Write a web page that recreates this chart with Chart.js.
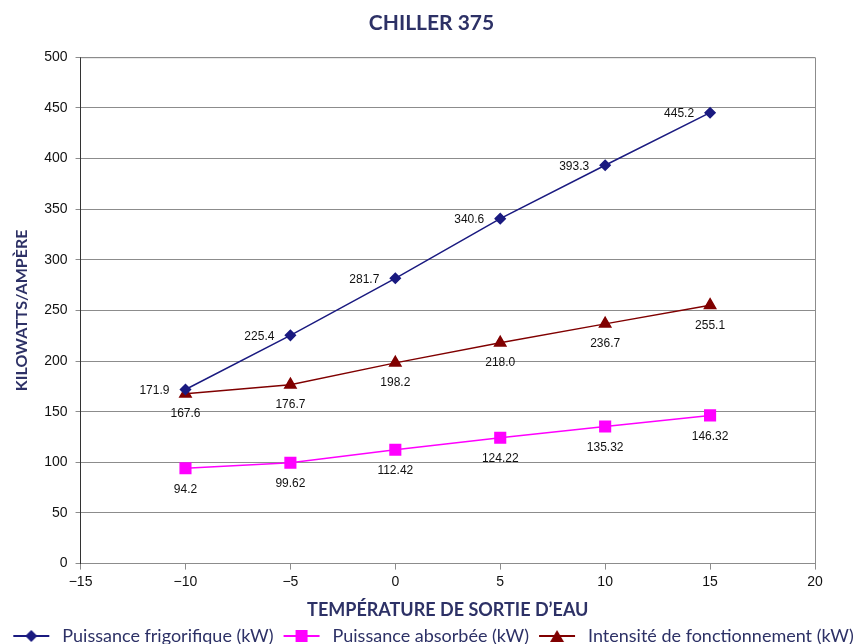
<!DOCTYPE html>
<html>
<head>
<meta charset="utf-8">
<script src="https://cdn.jsdelivr.net/npm/chart.js@4.4.1/dist/chart.umd.min.js"></script>
<style>
  html, body { margin: 0; padding: 0; background: #fff; }
  #wrap { width: 863px; height: 644px; }
</style>
</head>
<body>
<div id="wrap"><canvas id="chillerChart"></canvas></div>
<script>
const temperatures = [-10, -5, 0, 5, 10, 15];
const puissanceFrigo = [171.9, 225.4, 281.7, 340.6, 393.3, 445.2];
const puissanceAbsorbee = [94.2, 99.62, 112.42, 124.22, 135.32, 146.32];
const intensite = [167.6, 176.7, 198.2, 218.0, 236.7, 255.1];
const yTicks = [0, 50, 100, 150, 200, 250, 300, 350, 400, 450, 500];

const navy = '#2d3166';

function toPoints(values) {
  return temperatures.map((t, i) => ({ x: t, y: values[i] }));
}

// petite image ligne + marqueur pour la légende
function legendIcon(color, shape) {
  const c = document.createElement('canvas');
  c.width = 40; c.height = 14;
  const g = c.getContext('2d');
  g.strokeStyle = color; g.fillStyle = color; g.lineWidth = 2;
  g.beginPath(); g.moveTo(2, 7); g.lineTo(38, 7); g.stroke();
  g.beginPath();
  if (shape === 'diamond') {
    g.moveTo(20, 1); g.lineTo(26, 7); g.lineTo(20, 13); g.lineTo(14, 7);
  } else if (shape === 'square') {
    g.rect(14, 1, 12, 12);
  } else {
    g.moveTo(20, 1); g.lineTo(27, 13); g.lineTo(13, 13);
  }
  g.closePath(); g.fill();
  return c;
}

const icons = [
  legendIcon('#1a1a80', 'diamond'),
  legendIcon('#ff00ff', 'square'),
  legendIcon('#800000', 'triangle')
];

// étiquettes de valeurs
const valueLabels = {
  id: 'valueLabels',
  afterDatasetsDraw(chart) {
    const ctx = chart.ctx;
    ctx.save();
    ctx.font = '12px "Liberation Sans", Arial, sans-serif';
    ctx.fillStyle = '#111';
    ctx.textBaseline = 'middle';
    chart.data.datasets.forEach((ds, di) => {
      const meta = chart.getDatasetMeta(di);
      meta.data.forEach((pt, i) => {
        const v = ds.data[i].y;
        const txt = ds.decimals != null ? v.toFixed(ds.decimals) : String(v);
        if (ds.labelPos === 'left') {
          ctx.textAlign = 'right';
          ctx.fillText(txt, pt.x - 16, pt.y + 1);
        } else {
          ctx.textAlign = 'center';
          ctx.fillText(txt, pt.x, pt.y + ds.labelOffset);
        }
      });
    });
    ctx.restore();
  }
};

// cadre autour de la zone de tracé
const plotFrame = {
  id: 'plotFrame',
  afterDraw(chart) {
    const a = chart.chartArea;
    const ctx = chart.ctx;
    ctx.save();
    ctx.strokeStyle = '#8c8c8c';
    ctx.lineWidth = 1;
    ctx.beginPath();
    ctx.moveTo(a.left, a.top + 0.5);
    ctx.lineTo(a.right + 0.5, a.top + 0.5);
    ctx.lineTo(a.right + 0.5, a.bottom);
    ctx.stroke();
    ctx.restore();
  }
};

const ctx = document.getElementById('chillerChart').getContext('2d');
const chillerChart = new Chart(ctx, {
  type: 'line',
  data: {
    datasets: [
      {
        label: 'Puissance frigorifique (kW)',
        data: toPoints(puissanceFrigo),
        borderColor: '#1a1a80',
        backgroundColor: '#1a1a80',
        borderWidth: 1.5,
        pointStyle: 'rectRot',
        pointRadius: 5,
        labelPos: 'left',
        decimals: 1
      },
      {
        label: 'Puissance absorbée (kW)',
        data: toPoints(puissanceAbsorbee),
        borderColor: '#ff00ff',
        backgroundColor: '#ff00ff',
        borderWidth: 1.5,
        pointStyle: 'rect',
        pointRadius: 7.5,
        labelOffset: 21
      },
      {
        label: 'Intensité de fonctionnement (kW)',
        data: toPoints(intensite),
        borderColor: '#800000',
        backgroundColor: '#800000',
        borderWidth: 1.5,
        pointStyle: 'triangle',
        pointRadius: 6.5,
        labelOffset: 20,
        decimals: 1
      }
    ]
  },
  options: {
    responsive: true,
    maintainAspectRatio: false,
    animation: false,
    layout: { padding: { left: 0, right: 0, top: 4, bottom: -11 } },
    plugins: {
      title: {
        display: true,
        text: 'CHILLER 375',
        color: navy,
        font: { family: 'Lato, "Open Sans", sans-serif', size: 21, weight: 'bold' },
        padding: { top: 7, bottom: 21 }
      },
      legend: {
        position: 'bottom',
        labels: {
          usePointStyle: true,
          pointStyleWidth: 44,
          boxHeight: 14,
          padding: 6,
          color: navy,
          font: { family: 'Lato, "Open Sans", sans-serif', size: 18 },
          generateLabels(chart) {
            return chart.data.datasets.map((ds, i) => ({
              text: ds.label,
              pointStyle: icons[i],
              fontColor: navy,
              datasetIndex: i,
              hidden: false,
              lineWidth: 0
            }));
          }
        }
      },
      tooltip: { enabled: false }
    },
    scales: {
      x: {
        type: 'linear',
        min: -15,
        max: 20,
        ticks: {
          stepSize: 5,
          color: '#111',
          font: { family: '"Liberation Sans", Arial, sans-serif', size: 14 },
          padding: 4,
          callback: v => (v < 0 ? '\u2212' + Math.abs(v) : v)
        },
        grid: { drawOnChartArea: false, color: '#8c8c8c', tickLength: 6 },
        border: { color: '#8c8c8c' },
        title: {
          display: true,
          text: 'TEMPÉRATURE DE SORTIE D\u2019EAU',
          color: navy,
          font: { family: 'Lato, "Open Sans", sans-serif', size: 18, weight: 'bold' },
          padding: { top: 5, bottom: 0 }
        }
      },
      y: {
        min: 0,
        max: 500,
        afterBuildTicks(axis) { axis.ticks = yTicks.map(v => ({ value: v })); },
        ticks: {
          color: '#111',
          font: { family: '"Liberation Sans", Arial, sans-serif', size: 14 },
          padding: 8
        },
        grid: { color: '#8c8c8c', tickLength: 5 },
        border: { color: '#333' },
        title: {
          display: true,
          text: 'KILOWATTS/AMPÈRE',
          color: navy,
          font: { family: 'Lato, "Open Sans", sans-serif', size: 16, weight: 'bold' },
          padding: { top: 12, bottom: 5 }
        }
      },
      rightGap: {
        type: 'linear',
        position: 'right',
        display: true,
        ticks: { display: false },
        grid: { display: false },
        border: { display: false },
        afterFit(axis) { axis.width = 48; }
      }
    }
  },
  plugins: [valueLabels, plotFrame]
});
</script>
</body>
</html>
